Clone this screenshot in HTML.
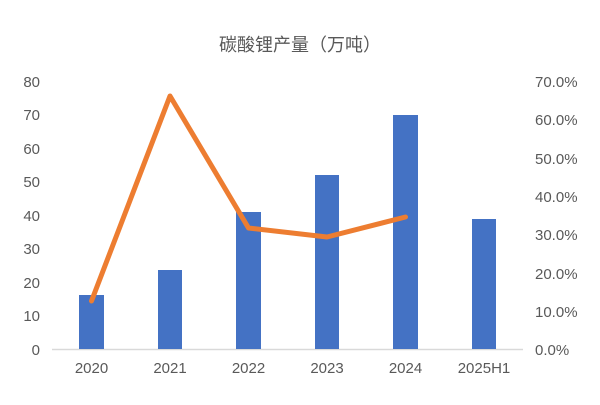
<!DOCTYPE html>
<html><head><meta charset="utf-8"><style>
body{margin:0;background:#fff;}
svg text{font-family:"Liberation Sans","Noto Sans CJK SC",sans-serif;fill:#595959;}
</style></head><body>
<svg width="600" height="400" viewBox="0 0 600 400" xmlns="http://www.w3.org/2000/svg">
<rect width="600" height="400" fill="#fff"/>
<text x="300" y="51" font-size="18" text-anchor="middle" fill="#595959">碳酸锂产量（万吨）</text>
<line x1="52" y1="349.5" x2="523" y2="349.5" stroke="#d9d9d9" stroke-width="1.5"/>
<g fill="#4472c4">
<rect x="79" y="295" width="25" height="54"/>
<rect x="158" y="270" width="24" height="79"/>
<rect x="236" y="212" width="25" height="137"/>
<rect x="315" y="175" width="24" height="174"/>
<rect x="393" y="115" width="25" height="234"/>
<rect x="472" y="219" width="24" height="130"/>
</g>
<polyline points="91.5,301 170,96 248.5,228 327,237 405.5,217" fill="none" stroke="#ed7d31" stroke-width="5" stroke-linejoin="round" stroke-linecap="round"/>
<g font-size="15" text-anchor="end">
<text x="40" y="355">0</text>
<text x="40" y="321">10</text>
<text x="40" y="288">20</text>
<text x="40" y="254">30</text>
<text x="40" y="221">40</text>
<text x="40" y="187">50</text>
<text x="40" y="154">60</text>
<text x="40" y="120">70</text>
<text x="40" y="87">80</text>
</g>
<g font-size="15" text-anchor="start">
<text x="535" y="355">0.0%</text>
<text x="535" y="317">10.0%</text>
<text x="535" y="279">20.0%</text>
<text x="535" y="240">30.0%</text>
<text x="535" y="202">40.0%</text>
<text x="535" y="164">50.0%</text>
<text x="535" y="125">60.0%</text>
<text x="535" y="87">70.0%</text>
</g>
<g font-size="15" text-anchor="middle">
<text x="91.5" y="373">2020</text>
<text x="170" y="373">2021</text>
<text x="248.5" y="373">2022</text>
<text x="327" y="373">2023</text>
<text x="405.5" y="373">2024</text>
<text x="484" y="373">2025H1</text>
</g>
</svg>
</body></html>
